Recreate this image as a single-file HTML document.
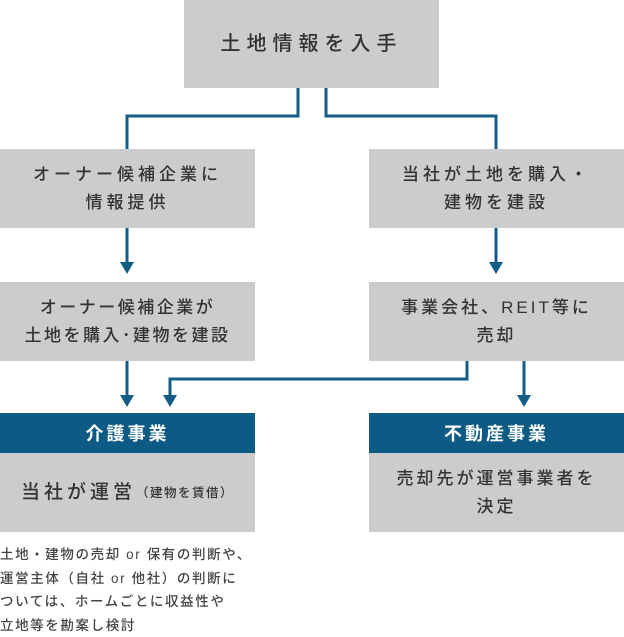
<!DOCTYPE html>
<html><head><meta charset="utf-8"><style>
body{margin:0;width:624px;height:632px;background:#fff;position:relative;overflow:hidden;font-family:"Liberation Sans","Noto Sans CJK JP",sans-serif;color:#333}
.b{position:absolute;background:#cbcccc;display:flex;align-items:center;justify-content:center;text-align:center;font-size:17px;font-weight:500;letter-spacing:4px;line-height:28px}
.h{position:absolute;background:#0d5b85;color:#fff;display:flex;align-items:center;justify-content:center;font-size:18px;font-weight:bold;letter-spacing:3px}
.note{position:absolute;left:0;top:543px;font-size:13.5px;font-weight:500;line-height:23.5px;letter-spacing:1.6px;color:#444}
svg{position:absolute;left:0;top:0}
</style></head><body>
<div class="b" style="left:184px;top:0;width:255px;height:88px;font-size:20px;letter-spacing:6px">土地情報を入手</div>
<div class="b" style="left:0;top:149px;width:255px;height:79px">オーナー候補企業に<br>情報提供</div>
<div class="b" style="left:369px;top:149px;width:255px;height:79px">当社が土地を購入・<br>建物を建設</div>
<div class="b" style="left:0;top:282px;width:255px;height:79px;letter-spacing:2.5px">オーナー候補企業が<br>土地を購入･建物を建設</div>
<div class="b" style="left:369px;top:282px;width:255px;height:79px;letter-spacing:3px">事業会社、REIT等に<br>売却</div>
<div class="h" style="left:0;top:413px;width:255px;height:40px">介護事業</div>
<div class="b" style="left:0;top:453px;width:255px;height:79px;font-size:19px">当社が運営<span style="font-size:12.5px;letter-spacing:1.5px">（建物を賃借）</span></div>
<div class="h" style="left:369px;top:413px;width:255px;height:40px">不動産事業</div>
<div class="b" style="left:369px;top:453px;width:255px;height:79px;letter-spacing:3px">売却先が運営事業者を<br>決定</div>
<div class="note">土地・建物の売却 or 保有の判断や、<br>運営主体（自社 or 他社）の判断に<br>ついては、ホームごとに収益性や<br>立地等を勘案し検討</div>
<svg width="624" height="632" fill="none" stroke="#135d87" stroke-width="3">
<polyline points="298,88 298,116 127,116 127,149"/>
<polyline points="326,88 326,116 496,116 496,149"/>
<line x1="127" y1="228" x2="127" y2="264"/>
<line x1="496" y1="228" x2="496" y2="264"/>
<line x1="127" y1="361" x2="127" y2="397"/>
<polyline points="467,361 467,379 170,379 170,397"/>
<line x1="524" y1="361" x2="524" y2="397"/>
<g fill="#135d87" stroke="none">
<polygon points="120,262 134,262 127,274"/>
<polygon points="489,262 503,262 496,274"/>
<polygon points="120,395 134,395 127,407"/>
<polygon points="163,395 177,395 170,407"/>
<polygon points="517,395 531,395 524,407"/>
</g>
</svg>
</body></html>
